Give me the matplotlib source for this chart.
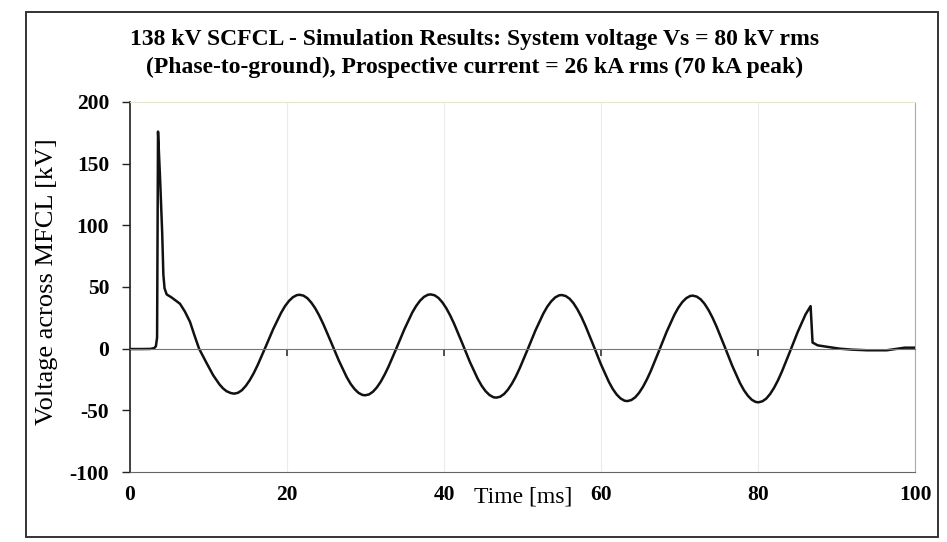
import matplotlib.pyplot as plt
from matplotlib.patches import Rectangle

plt.rcParams['font.family'] = ['Liberation Serif', 'DejaVu Serif']
plt.rcParams['axes.unicode_minus'] = False

# voltage across the limiter
time_ms = [0, 1.5, 2.6, 3.1, 3.3, 3.45, 3.52, 3.57, 3.85, 4.1, 4.25, 4.4, 4.67,
           5.3, 6.37, 7.0, 7.64, 8.2, 8.8, 9.7, 10.6, 11.4, 11.85, 12.3, 12.8, 13.25,
           13.75, 14.25, 14.75, 15.25, 15.75, 16.25, 17.25, 18.25, 19.25, 19.75,
           20.25, 20.75, 21.25, 21.6,
           22.1, 22.6, 23.1, 23.6, 24.1, 24.6, 25.6, 26.6, 27.6, 28.1, 28.6,
           29.1, 29.6, 29.95,
           30.45, 30.95, 31.45, 31.95, 32.45, 32.95, 33.95, 34.95, 35.95, 36.45,
           36.95, 37.45, 37.95, 38.3,
           38.8, 39.3, 39.8, 40.3, 40.8, 41.3, 42.3, 43.3, 44.3, 44.8, 45.3,
           45.8, 46.3, 46.65,
           47.15, 47.65, 48.15, 48.65, 49.15, 49.65, 50.65, 51.65, 52.65, 53.15,
           53.65, 54.15, 54.65, 55.0,
           55.5, 56.0, 56.5, 57.0, 57.5, 58.0, 59.0, 60.0, 61.0, 61.5, 62.0,
           62.5, 63.0, 63.35,
           63.85, 64.35, 64.85, 65.35, 65.85, 66.35, 67.35, 68.35, 69.35, 69.85,
           70.35, 70.85, 71.35, 71.7,
           72.2, 72.7, 73.2, 73.7, 74.2, 74.7, 75.7, 76.7, 77.7, 78.2, 78.7,
           79.2, 79.7, 80.05,
           80.55, 81.05, 81.55, 82.05, 82.55, 83.05, 84.05, 85.05, 86.05, 86.7,
           86.95, 87.6, 88.5, 90.4, 92.0, 93.9, 96.4, 98.7, 100]
voltage_kv = [-0.3, -0.3, -0.2, 0.5, 2, 9, 100, 176, 135, 94, 60, 49, 44,
              41.5, 36.4, 30, 21.8, 11, 0, -11, -21.6, -29, -32.2, -34.5, -35.9, -36.5,
              -35.8, -33.7, -30.2, -25.6, -20.0, -13.5, 1.1, 16.0, 29.1, 34.5,
              38.7, 41.7, 43.4, 43.7,
              43.0, 40.9, 37.3, 32.7, 26.9, 20.3, 5.5, -9.6, -23.0, -28.5, -32.7,
              -35.8, -37.5, -37.8,
              -37.1, -34.9, -31.4, -26.7, -20.9, -14.3, 0.5, 15.7, 29.2, 34.6,
              38.9, 42.0, 43.7, 44,
              43.3, 41.1, 37.5, 32.7, 26.8, 20.0, 4.8, -10.8, -24.5, -30.1, -34.5,
              -37.6, -39.4, -39.7,
              -39.0, -36.8, -33.2, -28.4, -22.6, -15.8, -0.7, 14.8, 28.4, 34.0,
              38.3, 41.5, 43.2, 43.5,
              42.7, 40.5, 36.8, 31.8, 25.8, 18.8, 3.2, -12.8, -26.9, -32.7, -37.2,
              -40.4, -42.2, -42.5,
              -41.7, -39.5, -35.8, -30.9, -24.9, -18.0, -2.4, 13.5, 27.5, 33.2,
              37.7, 40.9, 42.7, 43,
              42.2, 40.0, 36.3, 31.3, 25.2, 18.2, 2.5, -13.6, -27.8, -33.6, -38.1,
              -41.4, -43.2, -43.5,
              -42.7, -40.5, -36.7, -31.7, -25.6, -18.5, -2.7, 13.4, 27.7, 34.5,
              5, 2.7, 1.8, 0, -0.8, -1.3, -1.3, 0.8, 0.8]

x_ticks = [0, 20, 40, 60, 80, 100]
y_ticks = [-100, -50, 0, 50, 100, 150, 200]

W, H = 947, 542
fig = plt.figure(figsize=(W / 100, H / 100), dpi=100)

# outer frame of the chart object
fig.patches.append(Rectangle((26 / W, 1 - 537 / H), (938 - 26) / W, (537 - 12) / H,
                             transform=fig.transFigure, fill=False,
                             edgecolor='#333333', linewidth=1.4))

ax = fig.add_axes([130 / W, 1 - 472 / H, (915 - 130) / W, (472 - 102) / H])
ax.plot(time_ms, voltage_kv, color='#111111', linewidth=1.8,
        solid_joinstyle='round', zorder=3)

ax.set_xlim(0, 100)
ax.set_ylim(-100, 200)
ax.set_xticks(x_ticks)
ax.set_yticks(y_ticks)
ax.grid(axis='x', color='#ececec', linewidth=0.8)

ax.spines['left'].set_color('#222222')
ax.spines['left'].set_linewidth(1.2)
ax.spines['bottom'].set_color('#666666')
ax.spines['top'].set_color('#e6e6cc')
ax.spines['right'].set_color('#aaaaaa')

ax.tick_params(axis='y', direction='out', length=6, width=1, pad=9,
               labelsize=15.5, color='#222222')
ax.tick_params(axis='x', length=0, pad=9, labelsize=15.5)
for lab in ax.get_xticklabels() + ax.get_yticklabels():
    lab.set_fontweight('bold')

# axis line through zero with its own tick marks
zero_axis = ax.secondary_xaxis(1 / 3)
zero_axis.set_xticks([20, 40, 60, 80])
zero_axis.tick_params(direction='out', length=5, width=1.2, color='#333333',
                      labelbottom=False)
zero_axis.spines['bottom'].set_color('#777777')
zero_axis.set_zorder(4)

fig.text(475 / W, 1 - 40 / H,
         '138 kV SCFCL - Simulation Results: System voltage Vs = 80 kV rms',
         ha='center', va='center', fontsize=17, fontweight='bold')
fig.text(475 / W, 1 - 67 / H,
         '(Phase-to-ground), Prospective current = 26 kA rms (70 kA peak)',
         ha='center', va='center', fontsize=17, fontweight='bold')
fig.text(47 / W, 1 - 282 / H, 'Voltage across MFCL [kV]', rotation=90,
         ha='center', va='center', fontsize=19)
fig.text(523 / W, 1 - 497 / H, 'Time [ms]', ha='center', va='center', fontsize=17)

fig.savefig('out.png', dpi=100)
